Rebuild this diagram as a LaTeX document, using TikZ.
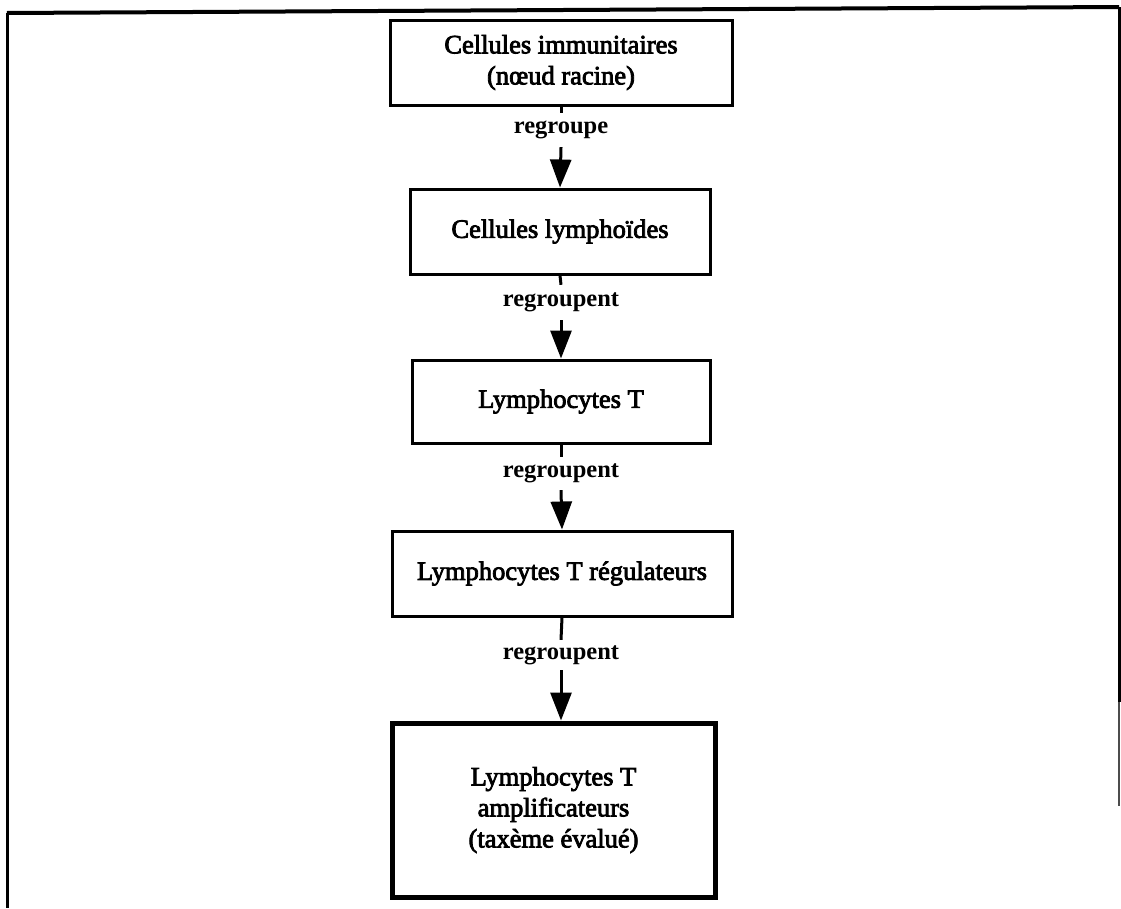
\documentclass[tikz,border=0pt]{standalone}
\usepackage{fontspec}
\usetikzlibrary{arrows.meta}
\newfontfamily\boxfont{Liberation Serif}[BoldFont={Liberation Serif}, BoldFeatures={FakeBold=3}]
\newfontfamily\labfont{Liberation Serif Bold}
\begin{document}
\begin{tikzpicture}[x=1pt, y=-1pt,
  taxon/.style={draw, line width=3pt, inner sep=0pt, align=center,
    font=\boxfont\bfseries\fontsize{26.5}{31}\selectfont},
  evaluated/.style={taxon, line width=5pt},
  relation/.style={inner sep=0pt, align=center,
    font=\labfont\fontsize{24.5}{29}\selectfont},
  link/.style={line width=3pt},
  linkarrow/.style={link, -{Triangle[length=28pt, width=21pt]}}]
  \useasboundingbox (0,0) rectangle (1121,908);

  % open frame around the hierarchy
  \draw[line width=4pt] (7,13) -- (1119,7);
  \draw[line width=3pt] (7,13) -- (7,908);
  \draw[line width=3pt] (1119,7) -- (1119,702);
  \draw[line width=1.5pt, black!70] (1119,702) -- (1119,806);

  % taxa
  \node[taxon, minimum width=342pt, minimum height=85pt] (b1) at (561,62.5)
    {Cellules immunitaires\\(nœud racine)};
  \node[taxon, minimum width=300pt, minimum height=85pt] (b2) at (560,231.5)
    {Cellules lymphoïdes};
  \node[taxon, minimum width=298pt, minimum height=83pt] (b3) at (561,401.5)
    {Lymphocytes T};
  \node[taxon, minimum width=340pt, minimum height=85pt] (b4) at (562,573.5)
    {Lymphocytes T régulateurs};
  \node[evaluated, minimum width=323pt, minimum height=174pt] (b5) at (553.5,810)
    {Lymphocytes T\\amplificateurs\\(taxème évalué)};

  % relation labels
  \node[relation, minimum height=34pt] (l1) at (561,130) {regroupe};
  \node[relation, minimum height=35pt] (l2) at (561,302.5) {regroupent};
  \node[relation, minimum height=33pt] (l3) at (561,473.5) {regroupent};
  \node[relation, minimum height=30pt] (l4) at (561,655) {regroupent};

  % connectors
  \draw[link] (b1.south) -- (l1.north);
  \draw[linkarrow] (l1.south) -- (b2.north);
  \draw[link] (b2.south) -- (l2.north);
  \draw[linkarrow] (l2.south) -- (b3.north);
  \draw[link] (b3.south) -- (l3.north);
  \draw[linkarrow] (l3.south) -- (b4.north);
  \draw[link] (b4.south) -- (l4.north);
  \draw[linkarrow] (l4.south) -- (l4.south |- b5.north);
\end{tikzpicture}
\end{document}
